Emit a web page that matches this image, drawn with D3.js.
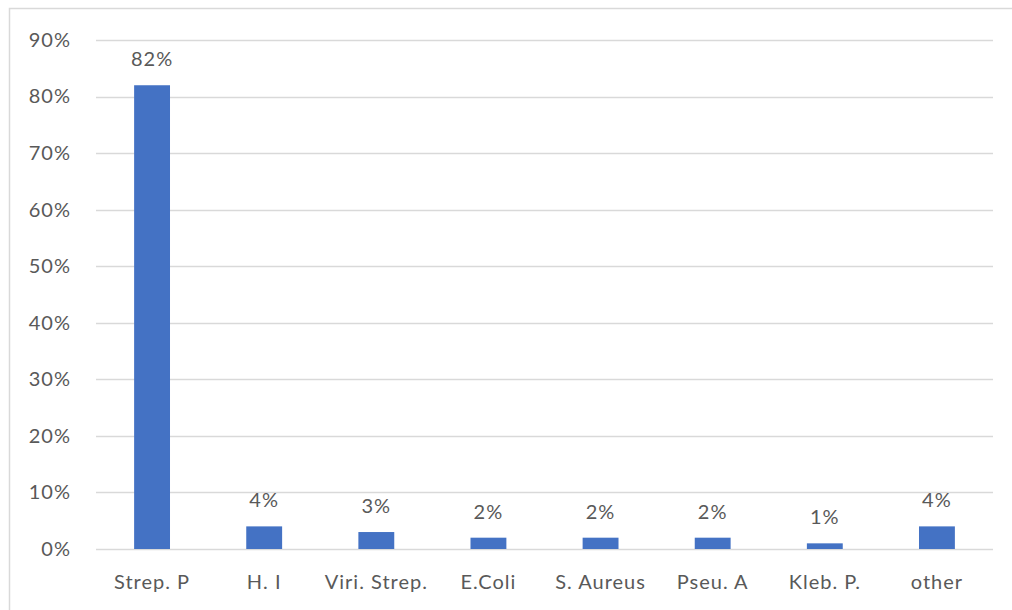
<!DOCTYPE html>
<html>
<head>
<meta charset="utf-8">
<script src="https://cdn.jsdelivr.net/npm/d3@7"></script>
<style>
  body { margin: 0; background: #fff; }
  text { font-family: Lato, "Open Sans", sans-serif; fill: #595959; letter-spacing: 1px; }
</style>
</head>
<body>
<div id="chart"></div>
<script>
// organisms and share of cases
var categories = ["Strep. P", "H. I", "Viri. Strep.", "E.Coli", "S. Aureus", "Pseu. A", "Kleb. P.", "other"];
var values = [0.82, 0.04, 0.03, 0.02, 0.02, 0.02, 0.01, 0.04];
var yTicks = [0, 0.1, 0.2, 0.3, 0.4, 0.5, 0.6, 0.7, 0.8, 0.9];

var W = 1012, H = 610;
var margin = {top: 40, right: 19, bottom: 61, left: 96};
var width = W - margin.left - margin.right;
var height = H - margin.top - margin.bottom;

var svg = d3.select("#chart").append("svg")
    .attr("width", W)
    .attr("height", H);

// outer frame
svg.append("rect")
    .attr("x", 9.5).attr("y", 8.5)
    .attr("width", W + 10).attr("height", H + 10)
    .attr("fill", "none")
    .attr("stroke", "#d9d9d9")
    .attr("stroke-width", 1.5);

var g = svg.append("g")
    .attr("transform", "translate(" + margin.left + "," + margin.top + ")");

var x = d3.scaleBand()
    .domain(categories)
    .range([0, width])
    .paddingInner(0.68)
    .paddingOuter(0.34);

var y = d3.scaleLinear()
    .domain([0, 0.9])
    .range([height, 0]);

// gridlines
g.selectAll("line.grid")
    .data(yTicks).enter()
    .append("line")
        .attr("class", "grid")
        .attr("x1", 0).attr("x2", width)
        .attr("y1", function(d) { return Math.round(y(d)) + 0.5; })
        .attr("y2", function(d) { return Math.round(y(d)) + 0.5; })
        .attr("stroke", "#d9d9d9")
        .attr("stroke-width", 1.5);

// y tick labels
var yAxis = g.append("g")
    .call(d3.axisLeft(y).tickValues(yTicks).tickFormat(d3.format(".0%")).tickSize(0).tickPadding(25));
yAxis.select(".domain").remove();
yAxis.selectAll("text")
    .attr("fill", "#595959")
    .style("font-size", "20px")
    .style("font-family", "Lato, 'Open Sans', sans-serif");

// x labels
var xAxis = g.append("g")
    .attr("transform", "translate(0," + height + ")")
    .call(d3.axisBottom(x).tickSize(0).tickPadding(26));
xAxis.select(".domain").remove();
xAxis.selectAll("text")
    .attr("fill", "#595959")
    .style("font-size", "20px")
    .style("font-family", "Lato, 'Open Sans', sans-serif");

// bars
g.selectAll("rect.bar")
    .data(values).enter()
    .append("rect")
        .attr("class", "bar")
        .attr("x", function(d, i) { return x(categories[i]); })
        .attr("y", function(d) { return y(d); })
        .attr("width", x.bandwidth())
        .attr("height", function(d) { return height - y(d); })
        .attr("fill", "#4472c4");

// value labels
g.selectAll("text.val")
    .data(values).enter()
    .append("text")
        .attr("class", "val")
        .attr("x", function(d, i) { return x(categories[i]) + x.bandwidth() / 2; })
        .attr("y", function(d) { return y(d) - 19; })
        .attr("text-anchor", "middle")
        .style("font-size", "20px")
        .text(d3.format(".0%"));
</script>
</body>
</html>
